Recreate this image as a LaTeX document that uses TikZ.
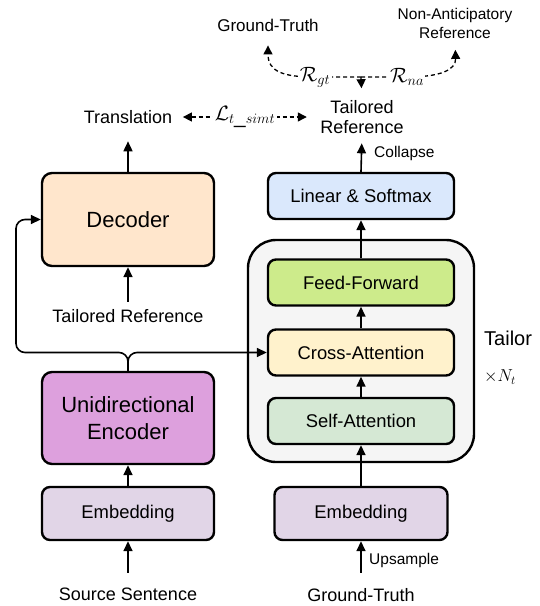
\documentclass[tikz,border=0pt]{standalone}
\usepackage{fontspec}
\setmainfont{Liberation Sans}
\usetikzlibrary{arrows.meta}
\definecolor{decC}{HTML}{FFE6CC}
\definecolor{encC}{HTML}{DDA0DD}
\definecolor{embC}{HTML}{E1D5E7}
\definecolor{tailC}{HTML}{F5F5F5}
\definecolor{ffC}{HTML}{CDEB8B}
\definecolor{caC}{HTML}{FFF2CC}
\definecolor{saC}{HTML}{D5E8D4}
\definecolor{linC}{HTML}{DAE8FC}
\begin{document}
\begin{tikzpicture}[x=1pt,y=-1pt,
  box/.style={draw, line width=2.4pt, rounded corners=10pt, align=center},
  ibox/.style={box, rounded corners=8pt, minimum width=186pt, minimum height=46pt, font=\fontsize{18.4}{22}\selectfont},
  ebox/.style={box, rounded corners=8pt, minimum width=172pt, minimum height=53pt, fill=embC, font=\fontsize{18.4}{22}\selectfont},
  lbl/.style={inner sep=0pt, align=center},
  f18/.style={font=\fontsize{18}{20}\selectfont},
  f15/.style={font=\fontsize{15.5}{19}\selectfont},
  mlbl/.style={fill=white, inner sep=1.5pt, font=\fontsize{20.74}{24}\selectfont},
  arr/.style={line width=1.6pt, -{Triangle[length=10pt,width=9pt]}},
  darr/.style={line width=1.3pt, dash pattern=on 4pt off 3pt, -{Triangle[length=9pt,width=9pt]}},
  ddarr/.style={line width=1.3pt, dash pattern=on 4pt off 3pt, {Triangle[length=9pt,width=9pt]}-{Triangle[length=9pt,width=9pt]}},
]
\useasboundingbox (0,0) rectangle (540,606);

% left column
\node[box, fill=decC, minimum width=172pt, minimum height=93pt, font=\fontsize{22}{26}\selectfont] (dec) at (128,219.5) {Decoder};
\node[box, fill=encC, minimum width=172pt, minimum height=92pt, font=\fontsize{22}{27}\selectfont] (enc) at (128,418) {Unidirectional\\Encoder};
\node[ebox] (embL) at (128,513.5) {Embedding};

% right column
\node[draw, line width=2.4pt, rounded corners=28pt, fill=tailC, minimum width=226pt, minimum height=222pt] (tail) at (361,351) {};
\node[ibox, fill=ffC] (ff) at (361,282.5) {Feed-Forward};
\node[ibox, fill=caC] (ca) at (361,352.5) {Cross-Attention};
\node[ibox, fill=saC] (sa) at (361,421) {Self-Attention};
\node[ibox, fill=linC] (lin) at (361,196) {Linear \& Softmax};
\node[ebox, minimum width=173pt] (embR) at (361,513.5) {Embedding};

% text labels
\node[lbl, f18] (trans) at (128,117) {Translation};
\node[lbl, f18] (tref) at (362,117) {Tailored\\Reference};
\node[lbl, font=\fontsize{17}{20}\selectfont] (gtop) at (268,25) {Ground-Truth};
\node[lbl, f15] (na) at (455,23.5) {Non-Anticipatory\\Reference};
\node[lbl, f18] (trd) at (128,316) {Tailored Reference};
\node[lbl, f18] (src) at (128,594) {Source Sentence};
\node[lbl, f18] (gtb) at (361,595) {Ground-Truth};
\node[lbl, anchor=west, font=\fontsize{20}{24}\selectfont] (tl) at (484,338) {Tailor};
\node[lbl, anchor=west, font=\fontsize{17.28}{21}\selectfont] (nt) at (484,377) {$\times N_t$};
\node[lbl, anchor=west, f15] (col) at (374,153) {Collapse};
\node[lbl, anchor=west, f15] (ups) at (369,560) {Upsample};

% solid arrows
\draw[arr, shorten >=17.5pt] (dec.north) -- (trans.south);
\draw[arr, shorten <=7.5pt] (trd.north) -- (dec.south);
\draw[arr] (embL.north) -- (enc.south);
\draw[arr, shorten <=14.5pt] (src.north) -- (embL.south);
\draw[arr, shorten <=15.5pt] (gtb.north) -- (embR.south);
\draw[arr] (embR.north) -- (sa.south);
\draw[arr] (sa.north) -- (ca.south);
\draw[arr] (ca.north) -- (ff.south);
\draw[arr] (ff.north) -- (lin.south);
\draw[arr, shorten >=9.5pt] (lin.north) -- (tref.south);

% encoder branches
\coordinate (lc) at (16,352.5);
\draw[arr, rounded corners=9pt] (enc.north) |- (ca.west);
\draw[arr, rounded corners=9pt] (enc.north) |- (lc) |- (dec.west);

% dashed relations
\coordinate (j) at (361,77);
\draw[darr, shorten >=12pt] (j) -- (tref.north);
\draw[darr, shorten >=14pt] (j) -- (315,77) .. controls (284,77) and (268,72) .. (gtop.south);
\draw[darr, shorten >=11pt] (j) -- (407,77) .. controls (440,77) and (456,70) .. (na.south);
\draw[ddarr, shorten <=10.5pt, shorten >=13.5pt] (trans.east) -- (tref.west);

\node[mlbl] (rgt) at (315,77) {$\mathcal{R}_{gt}$};
\node[mlbl] (rna) at (407,77) {$\mathcal{R}_{na}$};
\node[mlbl] (lsim) at (245,117) {$\mathcal{L}_{t\_simt}$};
\end{tikzpicture}
\end{document}
